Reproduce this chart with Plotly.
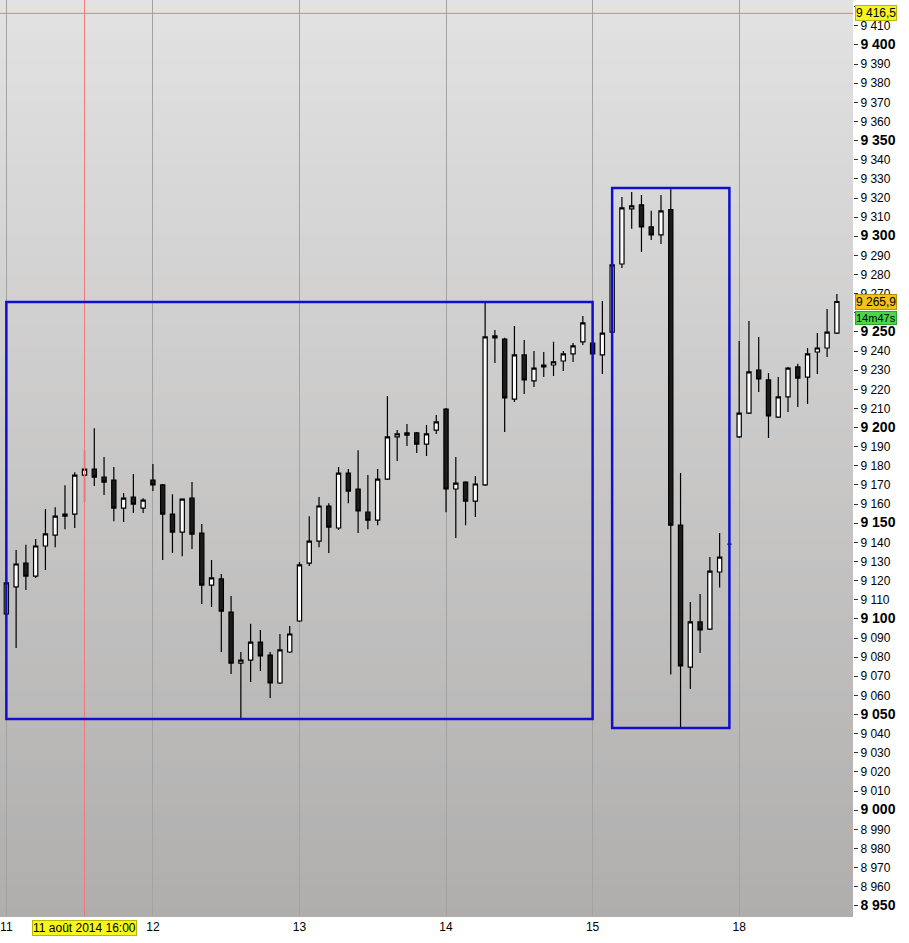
import plotly.graph_objects as go

# ---- data (hourly DAX candles, 11 -> 18 August 2014) ----
candle_index = list(range(-1, 86))
opens = [9094.2,
         9102.6, 9116.7, 9129.2, 9122.4, 9138.1, 9143.8, 9153.7, 9154.8, 9175.2, 9178.3,
         9174.1, 9172.6, 9157.9, 9163.7, 9157.9, 9172.6, 9170.0, 9154.8, 9145.4, 9163.1,
         9144.9, 9117.7, 9120.9, 9103.6, 9076.9, 9078.5, 9087.9, 9081.1, 9066.5, 9082.7,
         9098.9, 9129.2, 9140.7, 9159.0, 9147.5, 9176.2, 9167.9, 9155.8, 9151.6, 9173.1,
         9195.1, 9197.2, 9197.2, 9191.4, 9198.7, 9209.7, 9167.9, 9171.5, 9161.6, 9170.0,
         9247.9, 9246.3, 9214.9, 9238.0, 9224.4, 9231.7, 9232.7, 9234.8, 9238.5, 9244.8,
         9244.2, 9238.0, 9249.9, 9285.5, 9314.3, 9316.4, 9304.9, 9300.7, 9314.0, 9149.0,
         9074.8, 9098.4, 9094.7, 9124.5, 9139.1,
         9195.1, 9207.6, 9230.1, 9224.9, 9205.5, 9216.0, 9231.7, 9226.4, 9239.5, 9241.6,
         9249.4]
highs = [9095.2,
         9119.3, 9136.0, 9138.7, 9141.7, 9157.4, 9158.4, 9169.9, 9176.7, 9188.2, 9199.7,
         9184.6, 9179.4, 9165.8, 9175.7, 9163.1, 9181.0, 9170.5, 9165.2, 9163.1, 9171.5,
         9149.6, 9130.8, 9123.5, 9112.0, 9082.7, 9097.4, 9094.2, 9082.7, 9092.1, 9096.3,
         9129.7, 9153.7, 9163.7, 9160.5, 9179.4, 9178.3, 9188.2, 9175.2, 9178.3, 9216.5,
         9198.7, 9201.9, 9197.7, 9201.4, 9206.6, 9210.2, 9184.6, 9172.0, 9174.7, 9265.6,
         9251.0, 9246.9, 9253.1, 9245.8, 9240.0, 9239.5, 9244.8, 9240.0, 9244.2, 9258.3,
         9244.7, 9266.2, 9285.5, 9320.5, 9323.2, 9321.6, 9313.3, 9321.6, 9325.2, 9176.2,
         9108.8, 9113.0, 9132.3, 9144.9, 9140.2,
         9245.3, 9255.7, 9247.4, 9228.5, 9226.4, 9231.7, 9233.3, 9241.6, 9249.4, 9262.0,
         9269.8]
lows = [9081.1,
        9101.5, 9084.8, 9115.1, 9121.4, 9125.5, 9137.5, 9146.9, 9147.5, 9161.1, 9169.4,
        9164.7, 9151.1, 9150.6, 9155.3, 9155.3, 9166.8, 9130.8, 9134.4, 9132.8, 9136.5,
        9107.8, 9106.2, 9082.7, 9071.2, 9047.7, 9067.0, 9072.7, 9058.6, 9066.0, 9082.2,
        9098.4, 9127.6, 9137.5, 9134.4, 9146.4, 9160.5, 9144.9, 9146.9, 9149.0, 9172.6,
        9182.5, 9190.4, 9186.7, 9185.1, 9196.7, 9155.8, 9142.3, 9149.0, 9153.2, 9169.5,
        9233.8, 9197.7, 9213.4, 9217.6, 9221.2, 9226.5, 9227.0, 9229.6, 9234.3, 9243.2,
        9238.0, 9228.0, 9249.4, 9283.4, 9303.9, 9291.8, 9298.1, 9296.0, 9070.9, 9043.0,
        9063.3, 9082.2, 9094.2, 9116.4, 9138.0,
        9194.6, 9207.1, 9218.6, 9194.6, 9205.0, 9208.1, 9210.7, 9212.3, 9228.0, 9236.9,
        9248.9]
closes = [9082.7,
          9118.8, 9128.7, 9122.4, 9138.1, 9144.4, 9153.7, 9154.8, 9175.2, 9178.3, 9174.1,
          9171.5, 9157.9, 9163.1, 9160.0, 9162.1, 9170.0, 9154.8, 9145.4, 9162.6, 9144.3,
          9117.7, 9121.4, 9104.1, 9076.9, 9078.5, 9087.9, 9080.6, 9066.5, 9083.8, 9092.1,
          9128.2, 9140.7, 9159.0, 9148.0, 9176.2, 9166.8, 9156.4, 9151.6, 9173.1, 9195.1,
          9196.7, 9196.1, 9191.4, 9196.7, 9203.0, 9167.9, 9171.0, 9161.6, 9170.5, 9247.4,
          9246.9, 9215.5, 9238.0, 9224.9, 9231.1, 9232.7, 9234.3, 9238.5, 9242.7, 9254.7,
          9238.5, 9249.4, 9285.0, 9314.8, 9315.9, 9304.9, 9300.7, 9313.3, 9149.0, 9075.4,
          9098.4, 9094.2, 9125.0, 9132.3, 9139.1,
          9207.6, 9229.1, 9225.4, 9206.1, 9216.0, 9231.1, 9225.9, 9238.5, 9241.6, 9249.9,
          9265.9]

day_tick_index = [0, 15, 30, 45, 60, 75]
day_tick_labels = ["11", "12", "13", "14", "15", "18"]

price_ticks = list(range(8950, 9421, 10))
hidden_price_ticks = [9260]  # fully covered by the countdown badge

# user-drawn boxes: (first candle index, last candle index)
box_ranges = [(0, 60), (62, 74)]

crosshair_index = 8
crosshair_price = 9416.5
crosshair_label = "11 août 2014 16:00"
crosshair_price_label = "9 416,5"
last_price_label = "9 265,9"
countdown_label = "14m47s"

FONT = "Arial, Liberation Sans, sans-serif"


def fmt_price(v):
    if v in hidden_price_ticks:
        return ""
    s = f"{v:,}".replace(",", " ")
    if v % 50 == 0:
        return f"<b><span style='font-size:14px'>{s}</span></b>"
    return s


fig = go.Figure()

fig.add_trace(go.Candlestick(
    x=candle_index, open=opens, high=highs, low=lows, close=closes,
    increasing=dict(fillcolor="#ffffff", line=dict(color="#000000", width=1.2)),
    decreasing=dict(fillcolor="#1c1c1c", line=dict(color="#000000", width=1.2)),
    whiskerwidth=0, showlegend=False, hoverinfo="skip",
))

shapes = []
# vertical gradient background
n_bands = 90
top_rgb = (227, 226, 226)
bot_rgb = (175, 174, 173)
for k in range(n_bands):
    t = (k + 0.5) / n_bands
    r, g, b = [round(top_rgb[c] + (bot_rgb[c] - top_rgb[c]) * t) for c in range(3)]
    shapes.append(dict(type="rect", xref="paper", yref="paper",
                       x0=0, x1=1, y0=1 - (k + 1) / n_bands - 0.001, y1=1 - k / n_bands,
                       fillcolor=f"rgb({r},{g},{b})", line=dict(width=0), layer="below"))

# crosshair
shapes.append(dict(type="line", xref="x", yref="paper", x0=crosshair_index, x1=crosshair_index,
                   y0=0, y1=1, line=dict(color="#ef7a7a", width=1), layer="above"))
shapes.append(dict(type="line", xref="paper", yref="y", x0=0, x1=1,
                   y0=crosshair_price, y1=crosshair_price,
                   line=dict(color="#ef7a7a", width=1), layer="above"))

# blue boxes
for a, b in box_ranges:
    sel = [i for i, xi in enumerate(candle_index) if a <= xi <= b]
    hi = max(highs[i] for i in sel)
    lo = min(lows[i] for i in sel)
    shapes.append(dict(type="rect", xref="x", yref="y", x0=a, x1=b, y0=lo, y1=hi,
                       line=dict(color="#1010cc", width=2.5), fillcolor="rgba(0,0,0,0)",
                       layer="above"))

badge = dict(showarrow=False, borderwidth=1, borderpad=0,
             font=dict(family=FONT, size=12, color="#000"))
annotations = [
    dict(badge, xref="paper", x=1, xanchor="left", xshift=2, yref="y", y=crosshair_price,
         text=crosshair_price_label, bgcolor="#f6f61e", bordercolor="#b8b800"),
    dict(badge, xref="paper", x=1, xanchor="left", xshift=2, yref="y", y=closes[-1],
         text=last_price_label, bgcolor="#f2c21a", bordercolor="#b89000"),
    dict(badge, xref="paper", x=1, xanchor="left", xshift=2, yref="y", y=closes[-1], yshift=-16,
         text=countdown_label, bgcolor="#4cd44c", bordercolor="#30a030",
         font=dict(family=FONT, size=11, color="#000")),
    dict(badge, xref="x", x=crosshair_index, yref="paper", y=0, yanchor="top", yshift=-4,
         text=crosshair_label, bgcolor="#f6f61e", bordercolor="#b8b800"),
]

fig.update_layout(
    width=909, height=943,
    margin=dict(l=0, r=56, t=0, b=27, autoexpand=False),
    paper_bgcolor="#ffffff", plot_bgcolor="#d0cfcf",
    shapes=shapes, annotations=annotations,
    showlegend=False, boxgap=0.38,
    font=dict(family=FONT, size=12, color="#000"),
    xaxis=dict(range=[-0.65, 86.65], tickvals=day_tick_index, ticktext=day_tick_labels,
               showgrid=True, gridcolor="#a2a2a2", gridwidth=1, zeroline=False,
               rangeslider=dict(visible=False), ticks="", showline=False,
               tickfont=dict(size=12), ticklabelstandoff=2, automargin=False),
    yaxis=dict(range=[8944.7, 9423.5], side="right", tickvals=price_ticks,
               ticktext=[fmt_price(v) for v in price_ticks],
               showgrid=False, zeroline=False, ticks="outside", ticklen=4,
               tickcolor="#333", showline=False, tickfont=dict(size=12), automargin=False),
)

fig.write_html("out.html",
               config={"displayModeBar": False},
               post_script="document.body.style.margin='0';document.body.style.overflow='hidden';")
